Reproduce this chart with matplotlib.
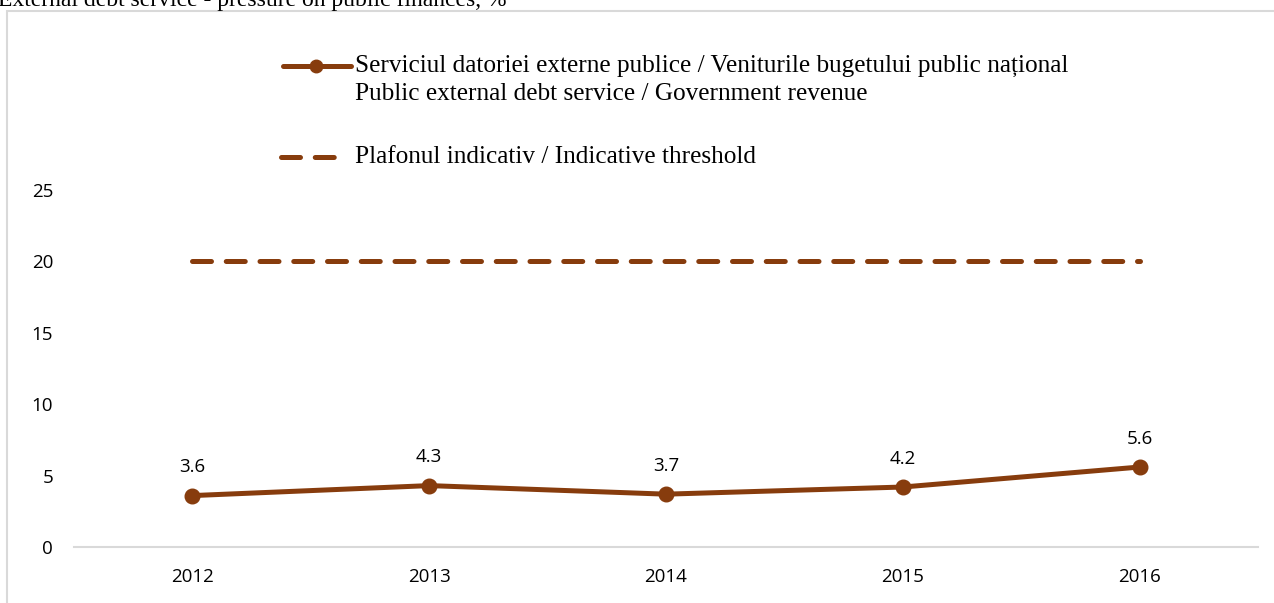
import matplotlib
matplotlib.use("Agg")
import matplotlib.pyplot as plt
from matplotlib.lines import Line2D
from matplotlib.patches import Rectangle

years = ["2012", "2013", "2014", "2015", "2016"]
debt_service = [3.6, 4.3, 3.7, 4.2, 5.6]
threshold = [20, 20, 20, 20, 20]
yticks = [0, 5, 10, 15, 20, 25]

title = "External debt service - pressure on public finances, %"
label1 = "Serviciul datoriei externe publice / Veniturile bugetului public național"
label2 = "Public external debt service / Government revenue"
label3 = "Plafonul indicativ / Indicative threshold"

brown = "#873C0D"
LW = 3.6
DASH = (3.8, 2.95)
W, H = 1274, 603
fig = plt.figure(figsize=(W / 100, H / 100), dpi=100)

# outer chart border
fig.add_artist(Rectangle((7 / W, -0.01), 1.0, 1 - 11 / H + 0.01, transform=fig.transFigure,
                         fill=False, edgecolor="#D9D9D9", linewidth=1.5))

fig.text(-2 / W, 1 - 6 / H, title, family="Liberation Serif", fontsize=17,
         va="baseline", ha="left", color="#000000")

left, right = 74 / W, 1258 / W
bottom = (H - 547) / H
top = (H - 190) / H
ax = fig.add_axes([left, bottom, right - left, top - bottom])

x = list(range(len(years)))
ax.plot(x, threshold, color=brown, linewidth=LW, dashes=DASH, dash_capstyle="round")
ax.plot(x, debt_service, color=brown, linewidth=LW, marker="o", markersize=10.5)
for xi, v in zip(x, debt_service):
    ax.annotate(f"{v:.1f}", (xi, v), xytext=(0, 14), textcoords="offset points",
                ha="center", va="bottom", family="Open Sans", fontsize=13.5, color="#000000")

ax.set_xlim(-0.5, len(years) - 0.5)
ax.set_ylim(0, 25)
ax.set_yticks(yticks)
ax.set_xticks(x)
ax.set_xticklabels(years)
for s in ["top", "right", "left"]:
    ax.spines[s].set_visible(False)
ax.spines["bottom"].set_color("#D9D9D9")
ax.spines["bottom"].set_linewidth(1.5)
ax.tick_params(axis="both", length=0, labelsize=13.5, colors="#000000")
ax.tick_params(axis="y", pad=15)
ax.tick_params(axis="x", pad=15)
for lab in ax.get_xticklabels() + ax.get_yticklabels():
    lab.set_family("Open Sans")
ax.patch.set_alpha(0)

# legend (manual)
def fx(px):
    return px / W

def fy(py):
    return 1 - py / H

fig.add_artist(Line2D([fx(283), fx(351)], [fy(66), fy(66)], transform=fig.transFigure,
                      color=brown, linewidth=LW, solid_capstyle="round"))
fig.add_artist(Line2D([fx(316)], [fy(66)], transform=fig.transFigure,
                      color=brown, marker="o", markersize=9, linestyle="none"))
fig.text(fx(355), fy(66), label1, family="Liberation Serif", fontsize=18.2, va="center", ha="left")
fig.text(fx(355), fy(94), label2, family="Liberation Serif", fontsize=18.2, va="center", ha="left")
fig.add_artist(Line2D([fx(281), fx(336)], [fy(157), fy(157)], transform=fig.transFigure,
                      color=brown, linewidth=LW, dashes=DASH, dash_capstyle="round"))
fig.text(fx(355), fy(157), label3, family="Liberation Serif", fontsize=18.2, va="center", ha="left")

fig.savefig("out.png", dpi=100)
